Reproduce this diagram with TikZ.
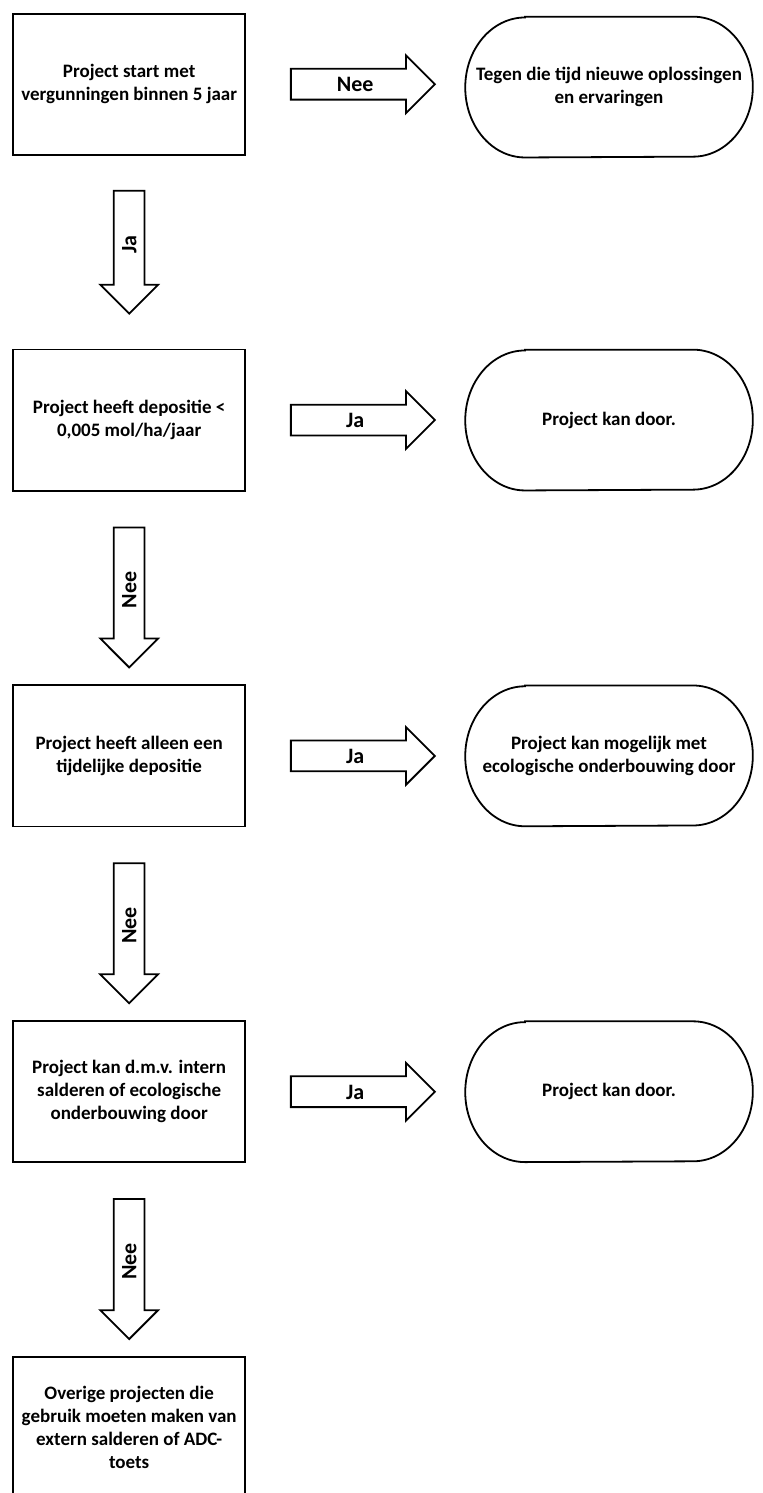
\documentclass[tikz,border=0pt]{standalone}
\usepackage{fontspec}
\setmainfont{Carlito}
\usepackage{tikz}
\usetikzlibrary{positioning, calc, shapes.arrows}

\begin{document}
\begin{tikzpicture}[
  box/.style={draw, line width=0.9pt, minimum width=4.08cm, minimum height=2.48cm,
    align=center, font=\bfseries\fontsize{9.5}{11.5}\selectfont},
  eind/.style={minimum width=5.04cm, minimum height=2.46cm, align=center,
    font=\bfseries\fontsize{9.5}{11.5}\selectfont},
  pijl/.style={single arrow, draw, line width=0.9pt, single arrow head extend=0.237cm,
    inner sep=0pt, text height=10.9pt, text depth=3.6pt, minimum height=2.53cm,
    anchor=tail, font=\bfseries\fontsize{11}{13}\selectfont},
  pijlneer/.style={pijl, rotate=90, shape border rotate=180, minimum height=2.46cm}
]
\useasboundingbox (0,0) rectangle (13.408,-26.237);
% decision boxes
\node[box] (start) at (2.27,-1.48) {Project start met\\vergunningen binnen 5 jaar};
\node[box, below=3.39cm of start] (depositie) {Project heeft depositie <\\0,005 mol/ha/jaar};
\node[box, below=3.39cm of depositie] (tijdelijk) {Project heeft alleen een\\tijdelijke depositie};
\node[box, below=3.39cm of tijdelijk] (intern) {Project kan d.m.v. intern\\salderen of ecologische\\onderbouwing door};
\node[box, below=3.39cm of intern] (overig) {Overige projecten die\\gebruik moeten maken van\\extern salderen of ADC-\\toets};
% end points
\node[eind, right=3.85cm of start, yshift=-0.05cm] (nieuw) {Tegen die tijd nieuwe oplossingen\\en ervaringen};
\node[eind, right=3.85cm of depositie] (door) {Project kan door.};
\node[eind, right=3.85cm of tijdelijk] (mogelijk) {Project kan mogelijk met\\ecologische onderbouwing door};
\node[eind, right=3.85cm of intern] (door2) {Project kan door.};
% stadium outline of the end points
\foreach \n in {nieuw, door, mogelijk, door2}
  \draw[line width=0.9pt] ($(\n.north west)+(1.05,0)$) -- ($(\n.north east)+(-1.05,0)$)
    arc[start angle=90, end angle=-90, x radius=1.05cm, y radius=1.23cm]
    -- ($(\n.south west)+(1.05,0)$)
    arc[start angle=270, end angle=90, x radius=1.05cm, y radius=1.23cm] -- cycle;
% block arrows to the right
\node[pijl] (nee1) at ($(start.east)+(0.77,0)$) {Nee};
\node[pijl] (ja2) at ($(depositie.east)+(0.77,0)$) {Ja};
\node[pijl] (ja3) at ($(tijdelijk.east)+(0.77,0)$) {Ja};
\node[pijl] (ja4) at ($(intern.east)+(0.77,0)$) {Ja};
% block arrows down
\node[pijlneer, minimum height=2.16cm] (ja1) at ($(start.south)+(0,-0.6)$) {Ja};
\node[pijlneer] (nee2) at ($(depositie.south)+(0,-0.615)$) {Nee};
\node[pijlneer] (nee3) at ($(tijdelijk.south)+(0,-0.615)$) {Nee};
\node[pijlneer] (nee4) at ($(intern.south)+(0,-0.615)$) {Nee};
\end{tikzpicture}
\end{document}
